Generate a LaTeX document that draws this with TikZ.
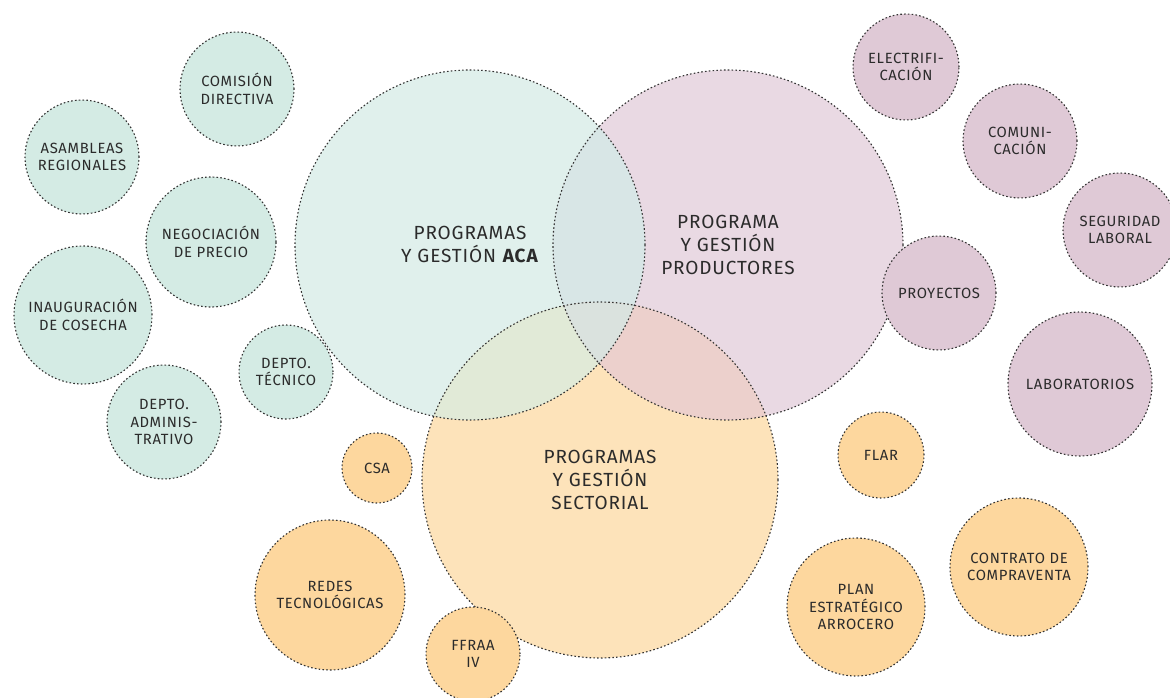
\documentclass[tikz,border=0pt]{standalone}
\usepackage{fontspec}
\setmainfont{Fira Sans}[LetterSpace=4.5]
\definecolor{txt}{HTML}{2B2B2B}
\definecolor{dotc}{HTML}{333333}
\definecolor{cA}{HTML}{E0F0EC}
\definecolor{cAs}{HTML}{D4EBE4}
\definecolor{cP}{HTML}{E9D9E3}
\definecolor{cPs}{HTML}{DFC9D6}
\definecolor{cS}{HTML}{FDE3BA}
\definecolor{cSs}{HTML}{FDD79E}
\definecolor{cAP}{HTML}{D8E6E6}
\definecolor{cAS}{HTML}{E1EAD7}
\definecolor{cPS}{HTML}{ECD0CC}
\definecolor{cAPS}{HTML}{DAE2DE}
\tikzset{
  dotline/.style={draw=dotc, line width=1.1pt, dash pattern=on 1.6pt off 2.2pt},
  bub/.style={circle, dotline, inner sep=0pt, align=center, text=txt,
    font=\fontsize{14.8}{17.5}\selectfont},
  big/.style={circle, dotline, inner sep=0pt, align=center, text=txt,
    minimum size=350pt, font=\fontsize{19}{23}\selectfont},
  teal/.style={bub, fill=cAs},
  plum/.style={bub, fill=cPs},
  sand/.style={bub, fill=cSs},
}
\begin{document}
\begin{tikzpicture}[x=1pt,y=-1pt]
\useasboundingbox (0,0) rectangle (1170,698);
\coordinate (acac) at (470,245);
\coordinate (proc) at (728,245);
\coordinate (secc) at (600,480);
% base fills
\fill[cA] (acac) circle (175pt);
\fill[cP] (proc) circle (175pt);
\fill[cS] (secc) circle (178pt);
% pairwise overlaps
\begin{scope}\clip (acac) circle (175pt); \fill[cAP] (proc) circle (175pt); \end{scope}
\begin{scope}\clip (acac) circle (175pt); \fill[cAS] (secc) circle (178pt); \end{scope}
\begin{scope}\clip (proc) circle (175pt); \fill[cPS] (secc) circle (178pt); \end{scope}
\begin{scope}\clip (acac) circle (175pt); \clip (proc) circle (175pt); \fill[cAPS] (secc) circle (178pt); \end{scope}
% big circles with outlines and labels
\node[big] (aca) at (acac) {PROGRAMAS\\Y GESTIÓN \textbf{ACA}};
\node[big] (prod) at (proc) {PROGRAMA\\Y GESTIÓN\\PRODUCTORES};
\node[big, minimum size=356pt] (sect) at (secc) {PROGRAMAS\\Y GESTIÓN\\SECTORIAL};
% ACA satellites
\node[teal, minimum size=114pt] (comision) at (237,89) {COMISIÓN\\DIRECTIVA};
\node[teal, minimum size=114pt] (asambleas) at (82,157) {ASAMBLEAS\\REGIONALES};
\node[teal, minimum size=130pt] (negociacion) at (211,242) {NEGOCIACIÓN\\DE PRECIO};
\node[teal, minimum size=138pt] (inauguracion) at (83,315) {INAUGURACIÓN\\DE COSECHA};
\node[teal, minimum size=114pt] (admin) at (164,422) {DEPTO.\\ADMINIS-\\TRATIVO};
\node[teal, minimum size=94pt] (tecnico) at (286,372) {DEPTO.\\TÉCNICO};
% Producers satellites
\node[plum, minimum size=106pt] (electri) at (906,67) {ELECTRIFI-\\CACIÓN};
\node[plum, minimum size=114pt] (comuni) at (1020,141) {COMUNI-\\CACIÓN};
\node[plum, minimum size=114pt] (seguridad) at (1120,230) {SEGURIDAD\\LABORAL};
\node[plum, minimum size=114pt] (proyectos) at (939,293) {PROYECTOS};
\node[plum, minimum size=144pt] (labs) at (1080,384) {LABORATORIOS};
% Sector satellites
\node[sand, minimum size=70pt] (csa) at (377,468) {CSA};
\node[sand, minimum size=150pt] (redes) at (330,595) {REDES\\TECNOLÓGICAS};
\node[sand, minimum size=94pt] (ffraa) at (473,654) {FFRAA\\IV};
\node[sand, minimum size=86pt] (flar) at (881,455) {FLAR};
\node[sand, minimum size=138pt] (contrato) at (1019,567) {CONTRATO DE\\COMPRAVENTA};
\node[sand, minimum size=138pt] (plan) at (856,607) {PLAN\\ESTRATÉGICO\\ARROCERO};
\end{tikzpicture}
\end{document}
